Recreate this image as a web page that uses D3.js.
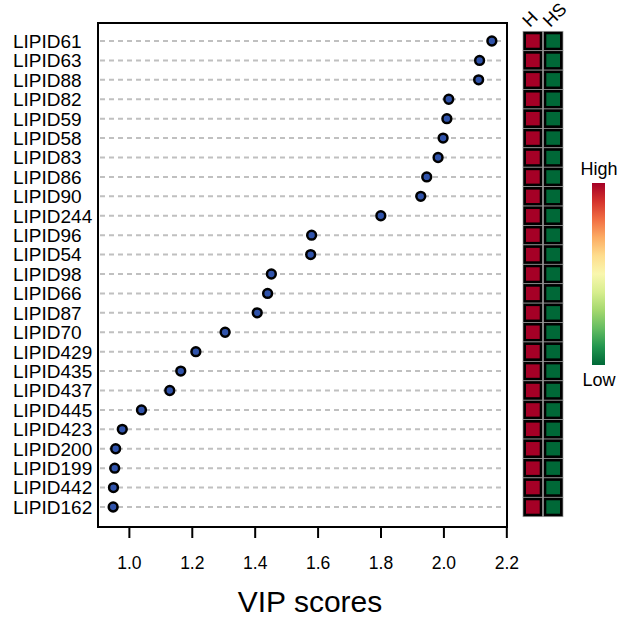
<!DOCTYPE html>
<html>
<head>
<meta charset="utf-8">
<script src="https://cdn.jsdelivr.net/npm/d3@7"></script>
<style>
  body { margin: 0; background: #fff; }
  text { font-family: "Liberation Sans", Arial, sans-serif; fill: #000; }
</style>
</head>
<body>
<div id="chart"></div>
<script>
// lipids, top VIP first
var lipids = ["LIPID61", "LIPID63", "LIPID88", "LIPID82", "LIPID59", "LIPID58", "LIPID83",
    "LIPID86", "LIPID90", "LIPID244", "LIPID96", "LIPID54", "LIPID98", "LIPID66", "LIPID87",
    "LIPID70", "LIPID429", "LIPID435", "LIPID437", "LIPID445", "LIPID423", "LIPID200",
    "LIPID199", "LIPID442", "LIPID162"];
var vipScores = [2.154, 2.115, 2.112, 2.017, 2.011, 1.999, 1.983, 1.947, 1.928, 1.801,
    1.581, 1.578, 1.453, 1.441, 1.408, 1.306, 1.213, 1.165, 1.130, 1.040, 0.979, 0.958,
    0.955, 0.951, 0.950];
// relative level per group (1 = high, 0 = low)
var groups = ["H", "HS"];
var levelH = [1, 1, 1, 1, 1, 1, 1, 1, 1, 1, 1, 1, 1, 1, 1, 1, 1, 1, 1, 1, 1, 1, 1, 1, 1];
var levelHS = [0, 0, 0, 0, 0, 0, 0, 0, 0, 0, 0, 0, 0, 0, 0, 0, 0, 0, 0, 0, 0, 0, 0, 0, 0];
var xTicks = [1.0, 1.2, 1.4, 1.6, 1.8, 2.0, 2.2];

var width = 626, height = 617;
var box = {left: 98, right: 507, top: 23, bottom: 527};

var data = lipids.map(function (name, i) {
    return {name: name, vip: vipScores[i], levels: [levelH[i], levelHS[i]]};
});

var svg = d3.select('#chart').append('svg')
    .attr('width', width)
    .attr('height', height);

// R style axis range: data extent padded by 4%
var ext = d3.extent(vipScores);
var pad = (ext[1] - ext[0]) * 0.04;
var x = d3.scaleLinear()
    .domain([ext[0] - pad, ext[1] + pad])
    .range([box.left, box.right]);

var y = d3.scalePoint()
    .domain(lipids)
    .range([41, 507]);
var step = y.step();

var color = function (v) { return d3.interpolateRdYlGn(1 - v); };

// dashed guide lines
svg.append('g').selectAll('line').data(data)
    .enter().append('line')
    .attr('x1', box.left + 2)
    .attr('x2', box.right - 3)
    .attr('y1', function (d) { return y(d.name); })
    .attr('y2', function (d) { return y(d.name); })
    .attr('stroke', '#c0c0c0')
    .attr('stroke-width', 2)
    .attr('stroke-dasharray', '5,4');

// lipid labels
svg.append('g').selectAll('text').data(data)
    .enter().append('text')
    .attr('x', 13)
    .attr('y', function (d) { return y(d.name); })
    .attr('dy', '0.36em')
    .style('font-size', '19px')
    .text(function (d) { return d.name; });

// points
svg.append('g').selectAll('circle').data(data)
    .enter().append('circle')
    .attr('cx', function (d) { return x(d.vip); })
    .attr('cy', function (d) { return y(d.name); })
    .attr('r', 4.4)
    .attr('fill', '#3053aa')
    .attr('stroke', '#000')
    .attr('stroke-width', 2.5);

// plot box
svg.append('rect')
    .attr('x', box.left)
    .attr('y', box.top)
    .attr('width', box.right - box.left)
    .attr('height', box.bottom - box.top)
    .attr('fill', 'none')
    .attr('stroke', '#000')
    .attr('stroke-width', 2);

// x axis
var xAxis = svg.append('g')
    .attr('transform', 'translate(0,' + box.bottom + ')')
    .call(d3.axisBottom(x).tickValues(xTicks).tickFormat(d3.format('.1f'))
        .tickSize(11).tickPadding(19));
xAxis.select('.domain').remove();
xAxis.selectAll('.tick line').attr('stroke', '#000').attr('stroke-width', 2);
xAxis.selectAll('.tick text').style('font-size', '17.5px').attr('fill', '#000');

svg.append('text')
    .attr('x', 310)
    .attr('y', 612)
    .attr('text-anchor', 'middle')
    .style('font-size', '30px')
    .text('VIP scores');

// heatmap of group levels
var cellX = d3.scaleBand().domain(groups).range([523, 563]).paddingInner(0.03);
var heat = svg.append('g');
data.forEach(function (d) {
    groups.forEach(function (g, j) {
        var cx = cellX(g), cy = y(d.name) - step / 2;
        heat.append('rect')
            .attr('x', cx)
            .attr('y', cy)
            .attr('width', cellX.bandwidth())
            .attr('height', step)
            .attr('fill', '#000')
            .attr('stroke', '#9a9a9a')
            .attr('stroke-width', 0.7);
        heat.append('rect')
            .attr('x', cx + 3)
            .attr('y', cy + 3)
            .attr('width', cellX.bandwidth() - 6)
            .attr('height', step - 6)
            .attr('fill', color(d.levels[j]));
    });
});

// column headers
svg.append('g').selectAll('text').data(groups)
    .enter().append('text')
    .attr('transform', function (g) {
        return 'translate(' + (cellX(g) + cellX.bandwidth() / 2 - 3) + ',28) rotate(-45)';
    })
    .style('font-size', '18px')
    .text(function (g) { return g; });

// colour legend
var defs = svg.append('defs');
var grad = defs.append('linearGradient')
    .attr('id', 'lvl')
    .attr('x1', 0).attr('y1', 1).attr('x2', 0).attr('y2', 0);
[0, 0.1, 0.2, 0.3, 0.4, 0.5, 0.6, 0.7, 0.8, 0.9, 1].forEach(function (t) {
    grad.append('stop').attr('offset', t).attr('stop-color', color(t));
});
var legY = d3.scaleLinear().domain([1, 0]).range([183, 365]);
svg.append('rect')
    .attr('x', 592)
    .attr('y', legY(1))
    .attr('width', 13)
    .attr('height', legY(0) - legY(1))
    .attr('fill', 'url(#lvl)');
svg.append('text')
    .attr('x', 599)
    .attr('y', 175)
    .attr('text-anchor', 'middle')
    .style('font-size', '18px')
    .text('High');
svg.append('text')
    .attr('x', 599)
    .attr('y', 386)
    .attr('text-anchor', 'middle')
    .style('font-size', '18px')
    .text('Low');
</script>
</body>
</html>
